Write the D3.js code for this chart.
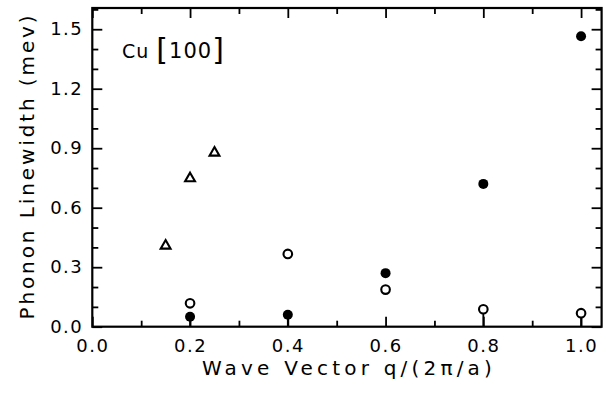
<!DOCTYPE html>
<html>
<head>
<meta charset="utf-8">
<script src="https://cdn.jsdelivr.net/npm/d3@7"></script>
<style>
  html, body { margin: 0; padding: 0; background: #fff; }
  svg { display: block; }
  text { font-family: "DejaVu Sans", sans-serif; fill: #000; }
</style>
</head>
<body>
<svg id="chart" width="606" height="394"></svg>
<script>
// ---- data ----
const filledQ   = [0.2, 0.4, 0.6, 0.8, 1.0];
const filledW   = [0.05, 0.06, 0.27, 0.72, 1.465];
const filledLow = [0, 0, null, null, null];      // lower end of error bar (null = none)

const openQ   = [0.2, 0.4, 0.6, 0.8, 1.0];
const openW   = [0.118, 0.367, 0.187, 0.088, 0.068];
const openLow = [null, null, null, 0, 0];

const triQ = [0.15, 0.2, 0.25];
const triW = [0.408, 0.748, 0.877];

const xMajorTicks = [0.0, 0.2, 0.4, 0.6, 0.8, 1.0];
const xMinorTicks = [0.1, 0.3, 0.5, 0.7, 0.9];
const yMajorTicks = [0.0, 0.3, 0.6, 0.9, 1.2, 1.5];
const yMinorTicks = [0.1, 0.2, 0.4, 0.5, 0.7, 0.8, 1.0, 1.1, 1.3, 1.4, 1.6];

const xTitle = "Wave Vector q/(2\u03C0/a)";
const yTitle = "Phonon Linewidth (mev)";
const panelLabel = "Cu";
const panelDir = "100";

// ---- layout ----
const svg = d3.select("#chart");
const L = 92.3, R = 601.6, T = 8, B = 326.7;

const x = d3.scaleLinear().domain([0, 1.042]).range([L, R]);
const y = d3.scaleLinear().domain([0, 1.607]).range([B, T]);

const majLen = 10, minLen = 6;

function styleAxis(g) {
  g.select(".domain").remove();
  g.selectAll(".tick line").attr("stroke", "#000").attr("stroke-width", 1.8);
}

// bottom major with labels
svg.append("g").attr("transform", `translate(0,${B})`)
  .call(d3.axisBottom(x).tickValues(xMajorTicks).tickSizeInner(-majLen).tickSizeOuter(0)
        .tickPadding(13).tickFormat(d3.format(".1f")))
  .call(styleAxis)
  .call(g => g.selectAll("text").attr("font-size", 18).attr("letter-spacing", 1.5));
svg.append("g").attr("transform", `translate(0,${B})`)
  .call(d3.axisBottom(x).tickValues(xMinorTicks).tickSizeInner(-minLen).tickSizeOuter(0).tickFormat(""))
  .call(styleAxis);
// top
svg.append("g").attr("transform", `translate(0,${T})`)
  .call(d3.axisTop(x).tickValues(xMajorTicks).tickSizeInner(-majLen).tickSizeOuter(0).tickFormat(""))
  .call(styleAxis);
svg.append("g").attr("transform", `translate(0,${T})`)
  .call(d3.axisTop(x).tickValues(xMinorTicks).tickSizeInner(-minLen).tickSizeOuter(0).tickFormat(""))
  .call(styleAxis);
// left
svg.append("g").attr("transform", `translate(${L},0)`)
  .call(d3.axisLeft(y).tickValues(yMajorTicks).tickSizeInner(-majLen).tickSizeOuter(0)
        .tickPadding(9).tickFormat(d3.format(".1f")))
  .call(styleAxis)
  .call(g => g.selectAll("text").attr("font-size", 18).attr("letter-spacing", 1.5));
svg.append("g").attr("transform", `translate(${L},0)`)
  .call(d3.axisLeft(y).tickValues(yMinorTicks).tickSizeInner(-minLen).tickSizeOuter(0).tickFormat(""))
  .call(styleAxis);
// right
svg.append("g").attr("transform", `translate(${R},0)`)
  .call(d3.axisRight(y).tickValues(yMajorTicks).tickSizeInner(-majLen).tickSizeOuter(0).tickFormat(""))
  .call(styleAxis);
svg.append("g").attr("transform", `translate(${R},0)`)
  .call(d3.axisRight(y).tickValues(yMinorTicks).tickSizeInner(-minLen).tickSizeOuter(0).tickFormat(""))
  .call(styleAxis);

// frame
svg.append("rect").attr("x", L).attr("y", T).attr("width", R - L).attr("height", B - T)
  .attr("fill", "none").attr("stroke", "#000").attr("stroke-width", 2.2);

// ---- error bars ----
function errBars(qs, ws, lows) {
  const d = qs.map((q, i) => ({q, w: ws[i], lo: lows[i]})).filter(p => p.lo !== null);
  svg.append("g").selectAll("line").data(d).join("line")
    .attr("x1", p => x(p.q)).attr("x2", p => x(p.q))
    .attr("y1", p => y(p.w)).attr("y2", p => y(p.lo))
    .attr("stroke", "#000").attr("stroke-width", 1.8);
}
errBars(filledQ, filledW, filledLow);
errBars(openQ, openW, openLow);

// ---- points ----
svg.append("g").selectAll("circle").data(openQ.map((q, i) => ({q, w: openW[i]}))).join("circle")
  .attr("cx", p => x(p.q)).attr("cy", p => y(p.w)).attr("r", 4.3)
  .attr("fill", "#fff").attr("stroke", "#000").attr("stroke-width", 2.1);

svg.append("g").selectAll("circle").data(filledQ.map((q, i) => ({q, w: filledW[i]}))).join("circle")
  .attr("cx", p => x(p.q)).attr("cy", p => y(p.w)).attr("r", 5)
  .attr("fill", "#000");

const tri = d3.symbol().type(d3.symbolTriangle).size(42);
svg.append("g").selectAll("path").data(triQ.map((q, i) => ({q, w: triW[i]}))).join("path")
  .attr("transform", p => `translate(${x(p.q)},${y(p.w)})`)
  .attr("d", tri).attr("fill", "#fff").attr("stroke", "#000").attr("stroke-width", 2.1);

// ---- titles ----
svg.append("text").attr("x", 349).attr("y", 375)
  .attr("text-anchor", "middle").attr("font-size", 20).attr("letter-spacing", 4.2)
  .text(xTitle);

svg.append("text").attr("transform", "translate(34,166) rotate(-90)")
  .attr("text-anchor", "middle").attr("font-size", 20).attr("letter-spacing", 2.9)
  .text(yTitle);

// panel label
const pl = svg.append("text").attr("x", 122).attr("y", 58).attr("font-size", 19).attr("letter-spacing", 1);
pl.append("tspan").text(panelLabel + " ");
pl.append("tspan").attr("font-size", 30).attr("dy", 2).text("[");
pl.append("tspan").attr("font-size", 21).attr("dy", -2).text(panelDir);
pl.append("tspan").attr("font-size", 30).attr("dy", 2).text("]");
</script>
</body>
</html>
